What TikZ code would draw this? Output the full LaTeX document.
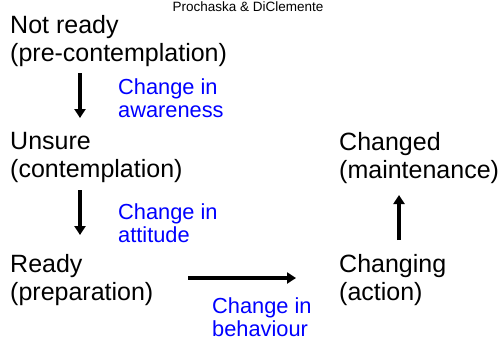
\documentclass[tikz,border=0pt]{standalone}
\usepackage{fontspec}
\setmainfont{Liberation Sans}
\usetikzlibrary{arrows.meta}

\begin{document}
\begin{tikzpicture}[x=1pt,y=-1pt,
  stage/.style={anchor=north west, inner sep=0pt, align=left, font=\fontsize{25}{28.5}\selectfont},
  change/.style={anchor=north west, inner sep=0pt, align=left, text=blue, font=\fontsize{21.8}{23.5}\selectfont},
  flow/.style={line width=3.5pt, -{Triangle[width=11pt,length=9pt]}}]
  \path[use as bounding box] (0,0) rectangle (502,341);
  \node (src) [anchor=north, inner sep=0pt, font=\fontsize{13.5}{15}\selectfont] at (248,2) {Prochaska \& DiClemente};
  % stages
  \node (notready) [stage] at (10,15)  {Not ready\\(pre-contemplation)};
  \node (unsure)   [stage] at (10,132) {Unsure\\(contemplation)};
  \node (ready)    [stage] at (10,254) {Ready\\(preparation)};
  \node (changing) [stage] at (339,254) {Changing\\(action)};
  \node (changed)  [stage] at (339,132) {Changed\\(maintenance)};
  % labels
  \node (aware)  [change] at (118,78)  {Change in\\awareness};
  \node (attit)  [change] at (118,203) {Change in\\attitude};
  \node (behav)  [change] at (212,297) {Change in\\behaviour};
  % arrows
  \coordinate (a1) at (80,73);  \coordinate (b1) at (80,118);
  \coordinate (a2) at (80,190); \coordinate (b2) at (80,235);
  \coordinate (a3) at (188,278); \coordinate (b3) at (296,278);
  \coordinate (a4) at (399,240); \coordinate (b4) at (399,195);
  \path[flow] (a1) edge (b1)
    (a2) edge (b2)
    (a3) edge (b3)
    (a4) edge (b4);
\end{tikzpicture}
\end{document}
